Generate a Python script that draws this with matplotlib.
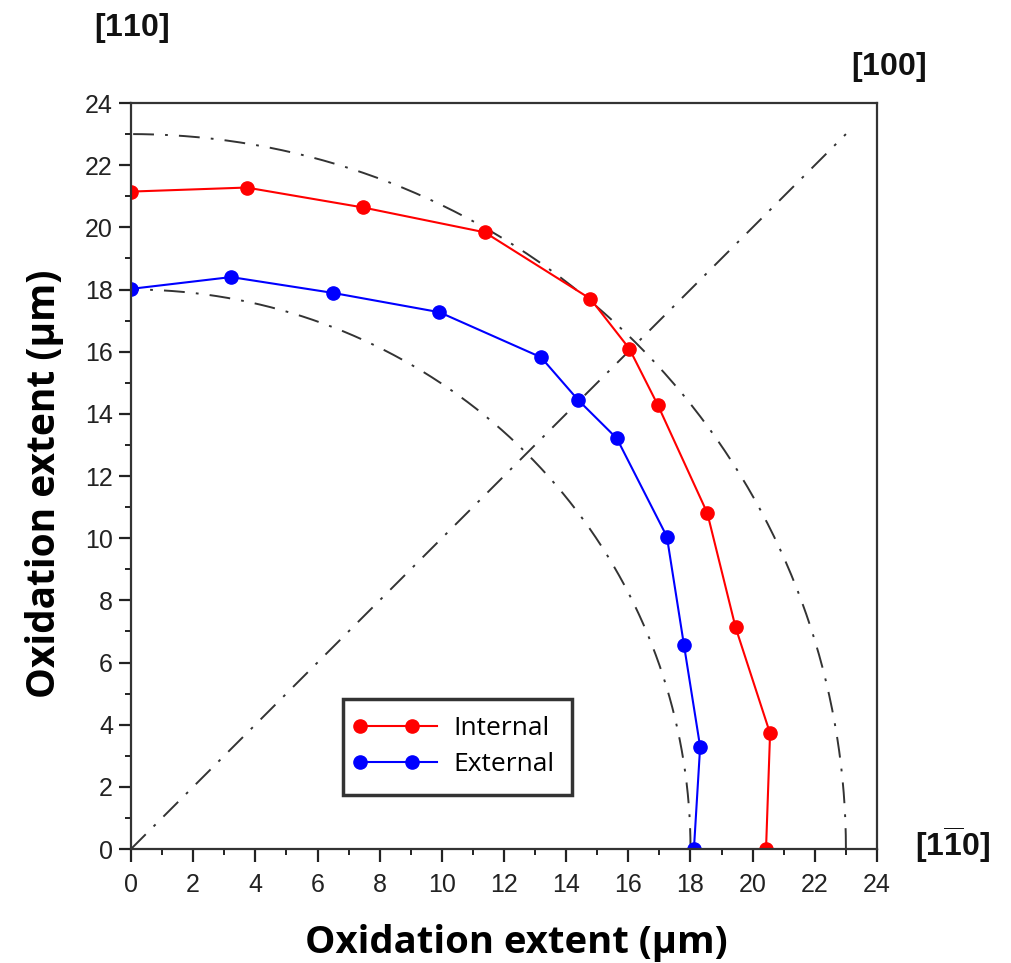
import numpy as np
import matplotlib
matplotlib.use("Agg")
import matplotlib.pyplot as plt
from matplotlib.ticker import MultipleLocator
from matplotlib.legend_handler import HandlerLine2D
from matplotlib.lines import Line2D

# ---- data ----
internal_x = [0.0, 3.72, 7.46, 11.38, 14.78, 16.03, 16.95, 18.54, 19.45, 20.56, 20.43]
internal_y = [21.15, 21.28, 20.64, 19.84, 17.70, 16.10, 14.28, 10.81, 7.13, 3.72, 0.0]
external_x = [0.0, 3.22, 6.50, 9.92, 13.19, 14.39, 15.63, 17.24, 17.79, 18.31, 18.11]
external_y = [18.02, 18.40, 17.89, 17.27, 15.82, 14.44, 13.21, 10.05, 6.56, 3.29, 0.0]
ref_radii = [23.0, 18.0]
diag_end = 23.0
series_labels = ["Internal", "External"]
xticks = list(range(0, 25, 2))
yticks = list(range(0, 25, 2))

plt.rcParams['lines.scale_dashes'] = False
plt.rcParams['mathtext.fontset'] = 'custom'
plt.rcParams['mathtext.rm'] = 'Liberation Sans'
plt.rcParams['mathtext.bf'] = 'Liberation Sans:bold'


class LegendLine(HandlerLine2D):
    """Line across the whole handle, markers at the start and ~2/3 along."""
    def create_artists(self, legend, orig_handle, xdescent, ydescent,
                       width, height, fontsize, trans):
        y = (height - ydescent) / 2
        line = Line2D([-xdescent, width - xdescent], [y, y])
        self.update_prop(line, orig_handle, legend)
        line.set_marker('None')
        mk = Line2D([-xdescent, -xdescent + 0.68 * width], [y, y])
        self.update_prop(mk, orig_handle, legend)
        mk.set_linestyle('None')
        line.set_transform(trans)
        mk.set_transform(trans)
        return [line, mk]


fig = plt.figure(figsize=(10.11, 9.63), dpi=100)
ax = fig.add_axes([131/1011, 1-849/963, 746/1011, 746/963])

dashdot = (0, (15, 8, 2, 8))
theta = np.linspace(0, np.pi/2, 400)
for r in ref_radii:
    ax.plot(r*np.cos(theta), r*np.sin(theta), color='#333333', lw=1.4, linestyle=dashdot)
ax.plot([0, diag_end], [0, diag_end], color='#333333', lw=1.4, linestyle=dashdot)

l1, = ax.plot(internal_x, internal_y, color='#ff0000', lw=1.5, marker='o', ms=9.5,
              label=series_labels[0])
l2, = ax.plot(external_x, external_y, color='#0000ff', lw=1.5, marker='o', ms=9.5,
              label=series_labels[1])

ax.set_xlim(0, 24)
ax.set_ylim(0, 24)
ax.xaxis.set_minor_locator(MultipleLocator(1))
ax.yaxis.set_minor_locator(MultipleLocator(1))
ax.set_xticks(xticks)
ax.set_yticks(yticks)
ax.tick_params(which='major', direction='out', length=9, width=1.6, color='#222222',
               labelsize=18, labelcolor='#222222')
ax.tick_params(axis='x', which='major', pad=8)
ax.tick_params(axis='y', which='major', pad=4)
ax.tick_params(which='minor', direction='out', length=4.5, width=1.4, color='#222222')
for lab in ax.get_xticklabels() + ax.get_yticklabels():
    lab.set_fontfamily('Liberation Sans')
for s in ax.spines.values():
    s.set_linewidth(1.6)
    s.set_color('#333333')

ax.set_xlabel('Oxidation extent (µm)', fontsize=27.5, fontweight='bold',
              fontfamily='Open Sans')
ax.xaxis.set_label_coords(0.517, -0.1)
ax.set_ylabel('Oxidation extent (µm)', fontsize=28, fontweight='bold',
              fontfamily='Open Sans')
ax.yaxis.set_label_coords(-0.09, 0.49)

leg = ax.legend(handles=[l1, l2], loc='lower left',
                bbox_to_anchor=(0.284, 0.073, 0.307, 0.13),
                mode='expand', frameon=True, fancybox=False,
                prop={'family': 'Open Sans', 'size': 19},
                handlelength=2.9, borderpad=0.66, labelspacing=0.42, handletextpad=0.63,
                borderaxespad=0, handler_map={Line2D: LegendLine()})
leg.get_frame().set_edgecolor('black')
leg.get_frame().set_linewidth(2.5)

fig.text(131/1011, 1-28/963, r'$\mathbf{[110]}$', fontsize=23,
         ha='center', va='center', color='#111111')
fig.text(888/1011, 1-67/963, r'$\mathbf{[100]}$', fontsize=23,
         ha='center', va='center', color='#111111')
fig.text(952/1011, 1-845/963, r'$\mathbf{[1\overline{1}0]}$', fontsize=23,
         ha='center', va='center', color='#111111')

fig.savefig('out.png', dpi=100)
